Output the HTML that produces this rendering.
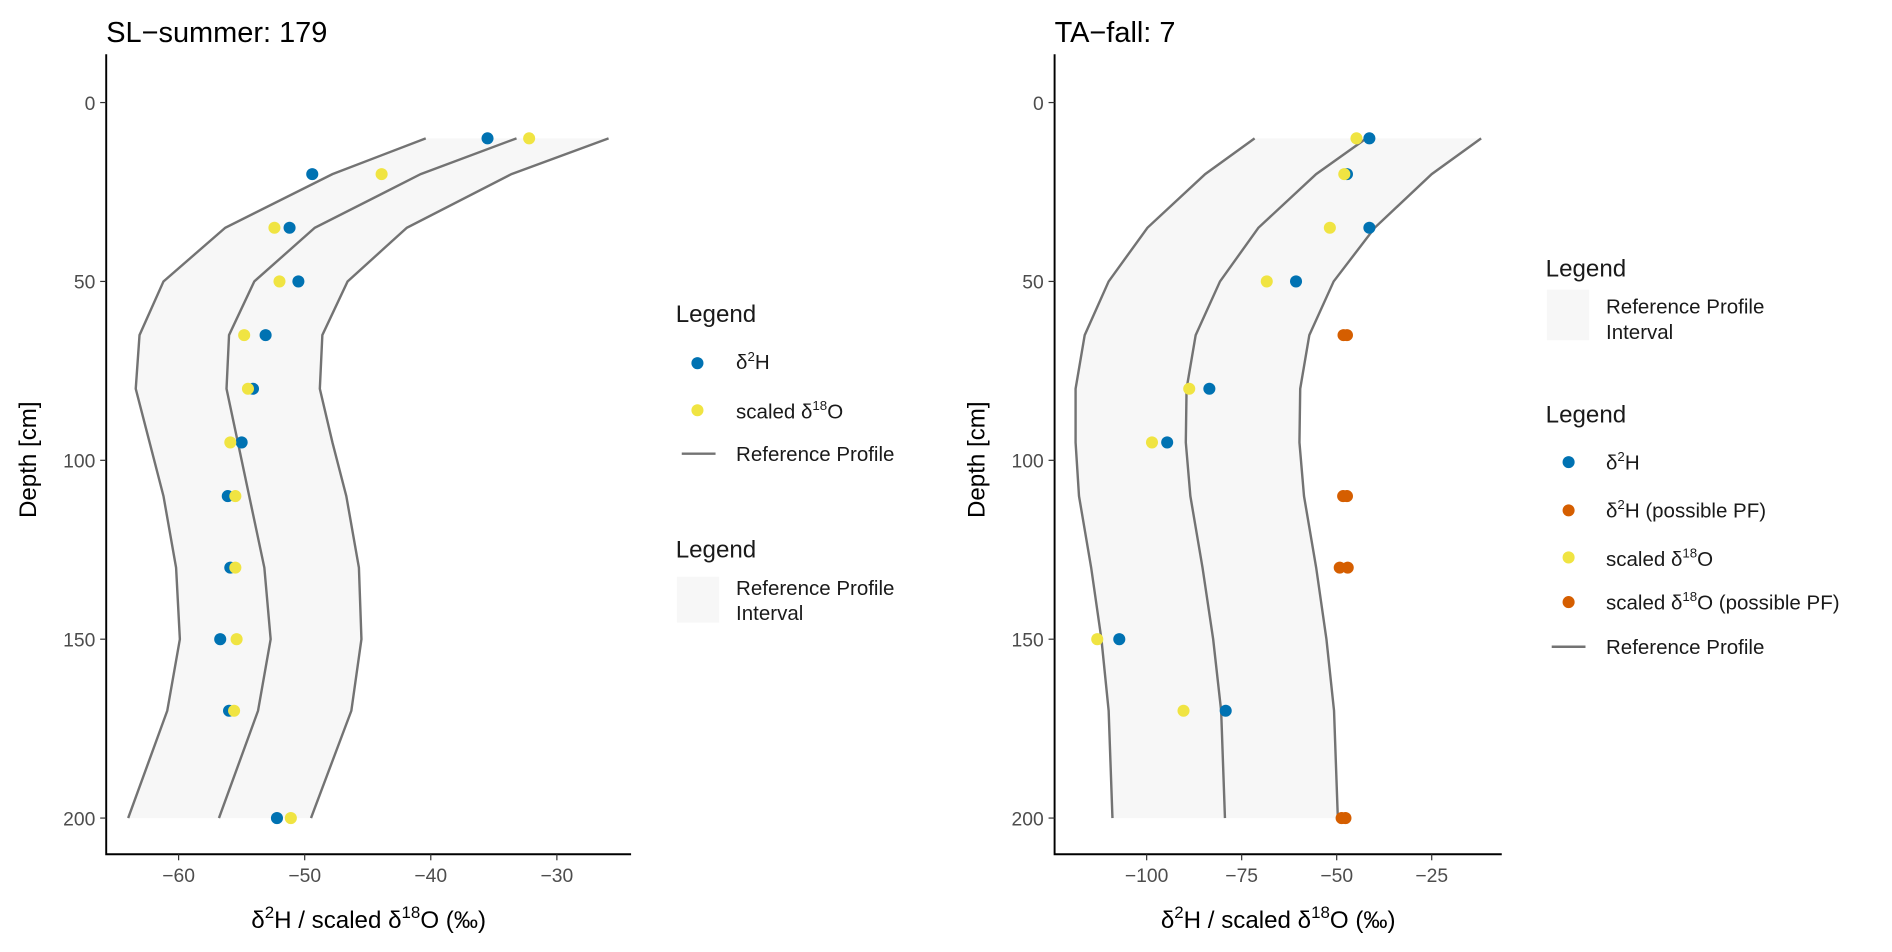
<!DOCTYPE html>
<html><head><meta charset="utf-8"><style>
html,body{margin:0;padding:0;background:#fff;}
svg{display:block;font-family:"Liberation Sans",sans-serif;}
</style></head><body>
<svg id="chart" width="1892" height="952" viewBox="0 0 1568 789" xmlns="http://www.w3.org/2000/svg">
<g id="p1"></g>
<g id="p2"></g>

<g font-size="17" fill="#1a1a1a">
<text x="560" y="267" font-size="20">Legend</text>
<circle cx="578" cy="301" r="5" fill="#0072B2"/>
<text x="610" y="306">δ<tspan font-size="11" dy="-7">2</tspan><tspan dy="7">H</tspan></text>
<circle cx="578" cy="340" r="5" fill="#F0E442"/>
<text x="610" y="347">scaled δ<tspan font-size="11" dy="-7">18</tspan><tspan dy="7">O</tspan></text>
<line x1="565" y1="376" x2="593" y2="376" stroke="#737373" stroke-width="2"/>
<text x="610" y="382">Reference Profile</text>
<text x="560" y="462" font-size="20">Legend</text>
<rect x="561" y="478" width="35" height="38" fill="#f7f7f7"/>
<text x="610" y="493">Reference Profile</text>
<text x="610" y="514">Interval</text>
</g>

<g font-size="17" fill="#1a1a1a">
<text x="1281" y="229" font-size="20">Legend</text>
<rect x="1282" y="240" width="35" height="42" fill="#f7f7f7"/>
<text x="1331" y="260">Reference Profile</text>
<text x="1331" y="281">Interval</text>
<text x="1281" y="350" font-size="20">Legend</text>
<circle cx="1300" cy="383" r="5" fill="#0072B2"/>
<text x="1331" y="389">δ<tspan font-size="11" dy="-7">2</tspan><tspan dy="7">H</tspan></text>
<circle cx="1300" cy="423" r="5" fill="#D55E00"/>
<text x="1331" y="429">δ<tspan font-size="11" dy="-7">2</tspan><tspan dy="7">H (possible PF)</tspan></text>
<circle cx="1300" cy="462" r="5" fill="#F0E442"/>
<text x="1331" y="469">scaled δ<tspan font-size="11" dy="-7">18</tspan><tspan dy="7">O</tspan></text>
<circle cx="1300" cy="499" r="5" fill="#D55E00"/>
<text x="1331" y="505">scaled δ<tspan font-size="11" dy="-7">18</tspan><tspan dy="7">O (possible PF)</tspan></text>
<line x1="1286" y1="536" x2="1314" y2="536" stroke="#737373" stroke-width="2"/>
<text x="1331" y="542">Reference Profile</text>
</g>
</svg>
<script>
const depths = [10,20,35,50,65,80,95,110,130,150,170,200];
// SL-summer
const slLeft  = [-40.4,-47.8,-56.3,-61.2,-63.1,-63.4,-62.3,-61.2,-60.2,-59.9,-60.9,-64.0];
const slMid   = [-33.2,-40.8,-49.2,-54.0,-56.0,-56.2,-55.3,-54.4,-53.2,-52.7,-53.7,-56.8];
const slRight = [-25.9,-33.6,-41.9,-46.6,-48.6,-48.8,-47.8,-46.7,-45.7,-45.5,-46.3,-49.5];
const slH     = [-35.5,-49.4,-51.2,-50.5,-53.1,-54.1,-55.0,-56.1,-55.9,-56.7,-56.0,-52.2];
const slO     = [-32.2,-43.9,-52.4,-52.0,-54.8,-54.5,-55.9,-55.5,-55.5,-55.4,-55.6,-51.1];
const slXTicks = [-60,-50,-40,-30];
// TA-fall
const taLeft  = [-71.6,-84.6,-99.8,-110.0,-116.3,-118.7,-118.7,-117.8,-114.6,-111.9,-110.0,-109.0];
const taMid   = [-42.2,-55.4,-70.6,-80.7,-87.1,-89.5,-89.7,-88.5,-85.3,-82.5,-80.4,-79.4];
const taRight = [-12.0,-25.0,-40.0,-50.8,-57.2,-59.6,-59.8,-58.6,-55.4,-52.7,-50.7,-49.7];
const taHDepth = [10,20,35,50,80,95,150,170];
const taH     = [-41.4,-47.3,-41.4,-60.7,-83.5,-94.6,-107.2,-79.2];
const taO     = [-44.8,-48.0,-51.8,-68.4,-88.8,-98.6,-113.0,-90.3];
const taPFDepth = [65,110,130,200];
const taHPF   = [-47.3,-47.3,-47.1,-47.7];
const taOPF   = [-48.2,-48.3,-49.2,-48.7];
const taXTicks = [-100,-75,-50,-25];
const yTicks = [0,50,100,150,200];

const NS="http://www.w3.org/2000/svg";
function mk(parent,tag,attrs,text){const e=document.createElementNS(NS,tag);for(const k in attrs)e.setAttribute(k,attrs[k]);if(text!==undefined)e.textContent=text;parent.appendChild(e);return e;}
const yS = d => 85 + d*2.965;

function panel(g, cfg){
  const xS = v => cfg.x0 + (v - cfg.v0)*cfg.k;
  const ribbon = depths.map((d,i)=>xS(cfg.left[i])+','+yS(d)).concat(depths.slice().reverse().map((d,j)=>{const i=depths.length-1-j;return xS(cfg.right[i])+','+yS(d);}));
  const rb = mk(g,'polygon',{points:ribbon.join(' '),fill:'#f7f7f7'});
  
  
  [['ref-line-lower',cfg.left],['ref-line-mid',cfg.mid],['ref-line-upper',cfg.right]].forEach(([n,arr])=>{
    const l = mk(g,'polyline',{points:depths.map((d,i)=>xS(arr[i])+','+yS(d)).join(' '),fill:'none',stroke:'#737373','stroke-width':2});
    
    
  });
  cfg.points.forEach(s=>{
    s.d.forEach((d,i)=>{
      const c = mk(g,'circle',{cx:xS(s.v[i]),cy:yS(d),r:5,fill:s.c});
      
      
    });
  });
  const ax = mk(g,'path',{d:`M${cfg.ax},45 V708 H${cfg.ax2}`,fill:'none',stroke:'#000','stroke-width':1.6});
  
  
  yTicks.forEach(t=>{
    mk(g,'line',{x1:cfg.ax-5,x2:cfg.ax,y1:yS(t),y2:yS(t),stroke:'#333'});
    const tl = mk(g,'text',{x:cfg.ax-9,y:yS(t)+6,'text-anchor':'end','font-size':16,fill:'#4d4d4d'},String(t));
    
    
  });
  cfg.xt.forEach(t=>{
    mk(g,'line',{x1:xS(t),x2:xS(t),y1:708,y2:713,stroke:'#333'});
    const tl = mk(g,'text',{x:xS(t),y:731,'text-anchor':'middle','font-size':16,fill:'#4d4d4d'},String(t).replace('-','\u2212'));
    
    
  });
  const ti = mk(g,'text',{x:cfg.ax,y:35,'font-size':24,fill:'#000'},cfg.title);
  
  
  const yl = mk(g,'text',{x:0,y:0,'font-size':20,'text-anchor':'middle',transform:`translate(${cfg.ax-58},381) rotate(-90)`},'Depth [cm]');
  
  
  const xl = mk(g,'text',{x:(cfg.ax+cfg.ax2)/2,y:769,'font-size':20,'text-anchor':'middle'});
  xl.innerHTML='δ<tspan font-size="14" dy="-8">2</tspan><tspan dy="8">H / scaled δ</tspan><tspan font-size="14" dy="-8">18</tspan><tspan dy="8">O (‰)</tspan>';
  
  
}
panel(document.getElementById('p1'),{x0:148,v0:-60,k:10.45,ax:88,ax2:523,left:slLeft,mid:slMid,right:slRight,xt:slXTicks,title:'SL\u2212summer: 179',
  points:[{n:'point-d2h',d:depths,v:slH,c:'#0072B2'},{n:'point-d18o',d:depths,v:slO,c:'#F0E442'}]});
panel(document.getElementById('p2'),{x0:950.3,v0:-100,k:3.15,ax:874,ax2:1244.6,left:taLeft,mid:taMid,right:taRight,xt:taXTicks,title:'TA\u2212fall: 7',
  points:[{n:'point-d2h',d:taHDepth,v:taH,c:'#0072B2'},{n:'point-d18o',d:taHDepth,v:taO,c:'#F0E442'},{n:'point-d2h-pf',d:taPFDepth,v:taHPF,c:'#D55E00'},{n:'point-d18o-pf',d:taPFDepth,v:taOPF,c:'#D55E00'}]});
</script>
</body></html>
